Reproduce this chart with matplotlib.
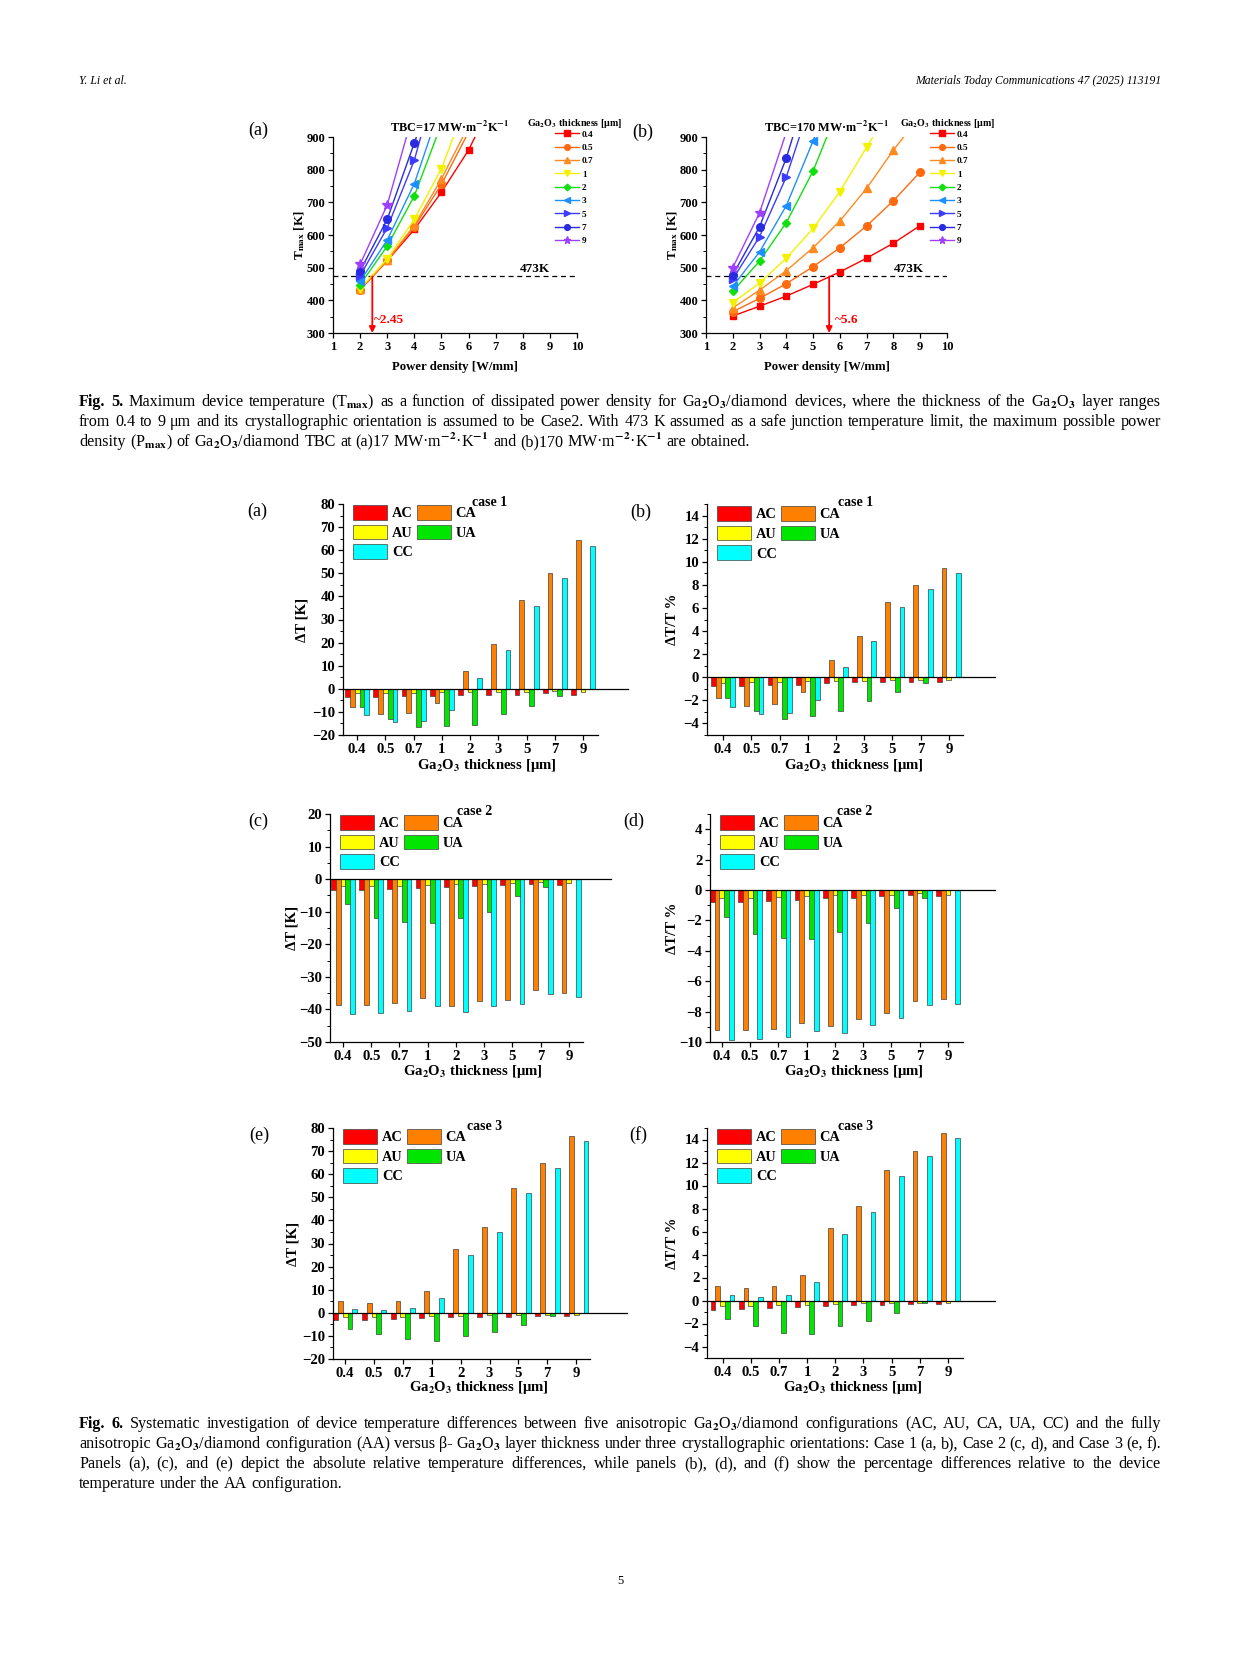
import matplotlib
matplotlib.use('Agg')
import matplotlib.pyplot as plt
from matplotlib.ticker import AutoMinorLocator, MultipleLocator
import numpy as np

# ---------------- Fig. 5 data ----------------
power_density = [2, 3, 4, 5, 6, 7, 8, 9]
thickness_names = ['0.4', '0.5', '0.7', '1', '2', '3', '5', '7', '9']

# (a) TBC = 17 MW m^-2 K^-1 (values above 900 K lie outside the axes)
Ta_04 = [432, 521, 617, 731, 860, 1027]
Ta_05 = [433, 522, 625, 755, 915]
Ta_07 = [434, 523, 630, 772, 935]
Ta_1 = [436, 527, 648, 803, 1023]
Ta_2 = [448, 566, 720, 940]
Ta_3 = [458, 585, 757, 1003]
Ta_5 = [475, 622, 829, 1130]
Ta_7 = [490, 648, 882, 1120]
Ta_9 = [510, 692, 985]

# (b) TBC = 170 MW m^-2 K^-1
Tb_04 = [352, 382, 413, 449, 487, 529, 575, 629]
Tb_05 = [365, 406, 451, 503, 561, 628, 705, 793]
Tb_07 = [377, 431, 491, 561, 643, 743, 860, 965]
Tb_1 = [393, 453, 529, 620, 733, 869, 1004]
Tb_2 = [428, 520, 638, 796, 1000]
Tb_3 = [443, 548, 690, 888, 1120]
Tb_5 = [465, 595, 778, 1027]
Tb_7 = [478, 625, 836, 1103]
Tb_9 = [500, 668, 915]

limit_T = 473
pmax_a = 2.45
pmax_b = 5.6

# ---------------- Fig. 6 data ----------------
ga_thickness = ['0.4', '0.5', '0.7', '1', '2', '3', '5', '7', '9']
configs = ['AC', 'CA', 'AU', 'UA', 'CC']

a_AC = [-3.5, -3.5, -3.0, -3.0, -2.5, -2.5, -2.5, -2.0, -2.5]
a_CA = [-8.0, -11.0, -10.5, -6.0, 7.5, 19.6, 38.5, 50.3, 64.5]
a_AU = [-2.0, -2.0, -2.0, -1.5, -1.5, -1.5, -1.5, -1.0, -1.5]
a_UA = [-8.0, -13.0, -16.5, -16.0, -15.5, -11.0, -7.5, -3.0, 0.0]
a_CC = [-11.5, -14.5, -14.0, -9.3, 4.7, 16.8, 36.0, 48.0, 62.0]

b_AC = [-0.8, -0.8, -0.7, -0.65, -0.5, -0.45, -0.45, -0.4, -0.4]
b_CA = [-1.8, -2.45, -2.35, -1.3, 1.5, 3.6, 6.55, 8.0, 9.5]
b_AU = [-0.5, -0.45, -0.4, -0.35, -0.3, -0.3, -0.25, -0.2, -0.25]
b_UA = [-1.8, -2.9, -3.6, -3.35, -2.95, -2.05, -1.3, -0.5, 0.0]
b_CC = [-2.6, -3.2, -3.1, -1.95, 0.9, 3.1, 6.1, 7.65, 9.05]

c_AC = [-3.3, -3.3, -3.0, -2.8, -2.4, -2.1, -1.9, -1.6, -1.9]
c_CA = [-38.7, -38.5, -38.1, -36.6, -39.0, -37.5, -37.0, -33.9, -34.9]
c_AU = [-2.2, -2.2, -2.0, -1.8, -1.5, -1.4, -1.3, -0.9, -1.2]
c_UA = [-7.5, -12.0, -13.3, -13.6, -12.0, -10.0, -5.3, -2.4, 0.0]
c_CC = [-41.5, -41.2, -40.6, -39.0, -40.8, -39.1, -38.4, -35.2, -36.2]

d_AC = [-0.8, -0.8, -0.7, -0.65, -0.55, -0.5, -0.4, -0.35, -0.4]
d_CA = [-9.2, -9.2, -9.15, -8.75, -8.95, -8.5, -8.1, -7.3, -7.2]
d_AU = [-0.55, -0.55, -0.45, -0.4, -0.35, -0.35, -0.3, -0.2, -0.3]
d_UA = [-1.8, -2.9, -3.15, -3.2, -2.75, -2.2, -1.2, -0.55, 0.0]
d_CC = [-9.9, -9.8, -9.7, -9.25, -9.4, -8.9, -8.45, -7.55, -7.5]

e_AC = [-3.0, -3.0, -2.6, -2.3, -1.9, -1.8, -1.7, -1.5, -1.6]
e_CA = [5.0, 4.3, 5.0, 9.4, 27.7, 37.0, 53.9, 64.7, 76.6]
e_AU = [-2.0, -1.9, -1.7, -1.5, -1.2, -1.1, -1.1, -0.8, -0.9]
e_UA = [-6.8, -9.3, -11.5, -12.2, -10.0, -8.1, -5.3, -1.2, 0.0]
e_CC = [1.7, 1.0, 1.9, 6.6, 25.2, 34.8, 51.7, 62.9, 74.2]

f_AC = [-0.8, -0.75, -0.65, -0.6, -0.45, -0.4, -0.35, -0.3, -0.3]
f_CA = [1.25, 1.05, 1.25, 2.25, 6.3, 8.2, 11.35, 13.0, 14.55]
f_AU = [-0.5, -0.5, -0.4, -0.35, -0.3, -0.25, -0.25, -0.2, -0.2]
f_UA = [-1.65, -2.25, -2.8, -2.9, -2.2, -1.75, -1.1, -0.2, 0.0]
f_CC = [0.45, 0.3, 0.5, 1.6, 5.75, 7.7, 10.85, 12.6, 14.1]

# ---------------- styling ----------------
SERIF = ['Liberation Serif', 'DejaVu Serif']
plt.rcParams['font.family'] = SERIF
plt.rcParams['font.weight'] = 'bold'
plt.rcParams['mathtext.fontset'] = 'stix'
plt.rcParams['axes.linewidth'] = 0.9

W, H = 1241, 1654
fig = plt.figure(figsize=(W / 100, H / 100), dpi=100)
fig.patch.set_facecolor('white')


def fx(px):
    return px / W


def fy(py):
    return 1 - py / H


def add_ax(l, t, r, b):
    return fig.add_axes([l / W, 1 - b / H, (r - l) / W, (b - t) / H])


def style_axes(ax, fs):
    ax.spines['top'].set_visible(False)
    ax.spines['right'].set_visible(False)
    ax.set_facecolor('none')
    ax.tick_params(which='major', direction='out', length=3.5, width=0.9,
                   labelsize=fs, pad=2)
    ax.tick_params(which='minor', direction='out', length=2, width=0.7)
    for lbl in ax.get_xticklabels() + ax.get_yticklabels():
        lbl.set_fontweight('bold')


GA = 'Ga$_\\mathbf{2}$O$_\\mathbf{3}$'

# ---------------- Fig. 5 ----------------
f5_colors = ['#FF0000', '#FF6A10', '#FF8A20', '#F2F200', '#10E010',
             '#1E8FFF', '#3C3CFF', '#2A2AE0', '#A040FF']
f5_markers = ['s', 'o', '^', 'v', 'D', '<', '>', 'o', '*']
f5_ms = [5, 5.5, 5.5, 5.5, 4.5, 5.5, 5.5, 5.5, 7]


def fig5_panel(box, series, title, title_xy, leg_title_xy, leg_xy, leg_space,
               pmax, pmax_xy, k_xy, panel, panel_xy, xlab_xy, ylab_x):
    ax = add_ax(*box)
    lines = []
    for name, ys, c, m, ms in zip(thickness_names, series, f5_colors, f5_markers, f5_ms):
        ln, = ax.plot(power_density[:len(ys)], ys, color=c, marker=m, ms=ms,
                      mec=c, mfc=c, lw=1.0, label=name, zorder=3)
        lines.append(ln)
    ax.set_xlim(1, 10)
    ax.set_ylim(300, 900)
    ax.xaxis.set_major_locator(MultipleLocator(1))
    ax.yaxis.set_major_locator(MultipleLocator(100))
    ax.yaxis.set_minor_locator(AutoMinorLocator(2))
    style_axes(ax, 9)
    ax.axhline(limit_T, color='black', ls=(0, (4, 3)), lw=0.9, zorder=2)
    ax.annotate('', xy=(pmax, 300), xytext=(pmax, limit_T),
                arrowprops=dict(arrowstyle='-|>', color='red', lw=1.3,
                                mutation_scale=9, shrinkA=0, shrinkB=0),
                annotation_clip=False, zorder=4)
    ax.text(pmax_xy[0], pmax_xy[1], '~' + str(pmax), color='red', fontsize=9.5,
            fontweight='bold', ha='left', va='center')
    ax.text(k_xy[0], k_xy[1], '473K', fontsize=9.5, fontweight='bold',
            ha='left', va='bottom')
    fig.text(fx(title_xy[0]), fy(title_xy[1]), title, fontsize=8.8,
             fontweight='bold', ha='center', va='center')
    fig.text(fx(leg_title_xy[0]), fy(leg_title_xy[1]),
             GA + ' thickness [μm]', fontsize=7.2, fontweight='bold',
             ha='left', va='center')
    ax.legend(handles=lines, loc='upper left',
              bbox_to_anchor=(fx(leg_xy[0]), fy(leg_xy[1])),
              bbox_transform=fig.transFigure, frameon=False,
              handlelength=2.6, handletextpad=0.3, labelspacing=leg_space,
              borderpad=0, borderaxespad=0, markerscale=0.75,
              prop={'weight': 'bold', 'size': 6.7})
    fig.text(fx(panel_xy[0]), fy(panel_xy[1]), panel, fontsize=13,
             fontweight='normal', ha='center', va='center')
    fig.text(fx(xlab_xy[0]), fy(xlab_xy[1]), 'Power density [W/mm]',
             fontsize=9.2, fontweight='bold', ha='center', va='center')
    fig.text(fx(ylab_x), fy((box[1] + box[3]) / 2), 'T$_\\mathbf{max}$ [K]',
             fontsize=9.5, fontweight='bold', ha='center', va='center',
             rotation=90)
    return ax


fig5_panel((333, 137, 577, 333),
           [Ta_04, Ta_05, Ta_07, Ta_1, Ta_2, Ta_3, Ta_5, Ta_7, Ta_9],
           'TBC=17 MW·m$^{\\mathbf{-2}}$K$^{\\mathbf{-1}}$', (450, 127),
           (527, 123), (555, 130), 0.52, pmax_a, (2.5, 340), (7.9, 477),
           '(a)', (258, 130), (455, 367), 300)
fig5_panel((706, 137, 947, 333),
           [Tb_04, Tb_05, Tb_07, Tb_1, Tb_2, Tb_3, Tb_5, Tb_7, Tb_9],
           'TBC=170 MW·m$^{\\mathbf{-2}}$K$^{\\mathbf{-1}}$', (827, 127),
           (900, 123), (930, 130), 0.52, pmax_b, (5.8, 340), (8.0, 477),
           '(b)', (643, 132), (827, 367), 673)

# ---------------- Fig. 6 ----------------
bar_colors = ['#FF0000', '#FF8000', '#FFFF00', '#00E600', '#00FFFF']
bar_w = 0.17


def fig6_panel(box, vals, ylim, ystep, xlim, zero_end, ylabel, ylab_x,
               xlab_xy, case, case_xy, leg_xy, panel, panel_xy):
    ax = add_ax(*box)
    x = np.arange(len(ga_thickness))
    conts = []
    for i, (v, c, name) in enumerate(zip(vals, bar_colors, configs)):
        bc = ax.bar(x + (i - 2) * bar_w, v, bar_w, color=c, edgecolor='#404040',
                    linewidth=0.5, label=name, zorder=2)
        conts.append(bc)
    ax.set_xlim(*xlim)
    ax.set_ylim(*ylim)
    ax.set_xticks(x, ga_thickness)
    ax.yaxis.set_major_locator(MultipleLocator(ystep))
    ax.yaxis.set_minor_locator(AutoMinorLocator(2))
    style_axes(ax, 10.6)
    ax.plot([xlim[0], zero_end], [0, 0], color='black', lw=0.9,
            clip_on=False, zorder=3)
    order = [0, 2, 4, 1, 3]  # AC, AU, CC | CA, UA
    ax.legend(handles=[conts[k] for k in order], loc='upper left',
              bbox_to_anchor=(fx(leg_xy[0]), fy(leg_xy[1])),
              bbox_transform=fig.transFigure, frameon=False, ncol=2,
              handlelength=2.35, handleheight=1.2, handletextpad=0.35,
              columnspacing=0.27, labelspacing=0.3, borderpad=0,
              borderaxespad=0, prop={'weight': 'bold', 'size': 10.4})
    fig.text(fx(case_xy[0]), fy(case_xy[1]), case, fontsize=10,
             fontweight='bold', ha='left', va='center')
    fig.text(fx(panel_xy[0]), fy(panel_xy[1]), panel, fontsize=13,
             fontweight='normal', ha='center', va='center')
    fig.text(fx(xlab_xy[0]), fy(xlab_xy[1]), GA + ' thickness [μm]',
             fontsize=10.6, fontweight='bold', ha='center', va='center')
    fig.text(fx(ylab_x), fy((box[1] + box[3]) / 2), ylabel, fontsize=10.6,
             fontweight='bold', ha='center', va='center', rotation=90)
    return ax


fig6_panel((343, 504, 598, 735), [a_AC, a_CA, a_AU, a_UA, a_CC], (-20, 80), 10,
           (-0.5, 8.53), 9.59, 'ΔT [K]', 302, (487, 765), 'case 1', (472, 502),
           (353, 505), '(a)', (257, 511))
fig6_panel((707, 504, 963, 735), [b_AC, b_CA, b_AU, b_UA, b_CC], (-5, 15), 2,
           (-0.57, 8.5), 9.63, 'ΔT/T %', 672, (854, 765), 'case 1', (838, 502),
           (717, 506), '(b)', (641, 512))
fig6_panel((330, 814, 583, 1042), [c_AC, c_CA, c_AU, c_UA, c_CC], (-50, 20), 10,
           (-0.46, 8.5), 9.5, 'ΔT [K]', 292, (473, 1072), 'case 2', (457, 812),
           (340, 815), '(c)', (258, 821))
fig6_panel((710, 814, 963, 1042), [d_AC, d_CA, d_AU, d_UA, d_CC], (-10, 5), 2,
           (-0.42, 8.53), 9.66, 'ΔT/T %', 672, (854, 1072), 'case 2', (837, 812),
           (720, 815), '(d)', (634, 821))
fig6_panel((333, 1128, 590, 1359), [e_AC, e_CA, e_AU, e_UA, e_CC], (-20, 80), 10,
           (-0.42, 8.48), 9.77, 'ΔT [K]', 293, (479, 1388), 'case 3', (467, 1126),
           (343, 1129), '(e)', (259, 1135))
fig6_panel((707, 1128, 963, 1358), [f_AC, f_CA, f_AU, f_UA, f_CC], (-5, 15), 2,
           (-0.55, 8.53), 9.66, 'ΔT/T %', 672, (853, 1388), 'case 3', (838, 1126),
           (717, 1129), '(f)', (638, 1135))

# ---------------- page text ----------------
fig.text(fx(79), fy(81), 'Y. Li et al.', fontsize=8.5, style='italic',
         fontweight='normal', ha='left', va='center')
fig.text(fx(1161), fy(81), 'Materials Today Communications 47 (2025) 113191',
         fontsize=8.5, style='italic', fontweight='normal', ha='right', va='center')
fig.text(fx(620), fy(1581), '5', fontsize=9, fontweight='normal',
         ha='center', va='center')

renderer = fig.canvas.get_renderer()
CAP_FS = 11.6
GAn = 'Ga$_2$O$_3$'


def caption_line(text, y, bold_words=0, x0=79, x1=1161, justify=True):
    words = text.split(' ')
    objs = []
    for k, w in enumerate(words):
        t = fig.text(0, fy(y), w, fontsize=CAP_FS,
                     fontweight='bold' if k < bold_words else 'normal',
                     ha='left', va='center')
        objs.append(t)
    widths = [t.get_window_extent(renderer).width for t in objs]
    space = CAP_FS * 100 / 72 * 0.25
    if justify and len(objs) > 1:
        gap = max((x1 - x0 - sum(widths)) / (len(objs) - 1), 2.0)
    else:
        gap = space
    x = x0
    for t, w in zip(objs, widths):
        t.set_x(x / W)
        x += w + gap


cap5 = [
    ('Fig. 5. Maximum device temperature (T$_\\mathrm{max}$) as a function of dissipated power '
     'density for ' + GAn + '/diamond devices, where the thickness of the ' + GAn + ' layer ranges', 2, True),
    ('from 0.4 to 9 μm and its crystallographic orientation is assumed to be Case2. With 473 K assumed '
     'as a safe junction temperature limit, the maximum possible power', 0, True),
    ('density (P$_\\mathrm{max}$) of ' + GAn + '/diamond TBC at (a)17 MW·m$^{-2}$·K$^{-1}$ and '
     '(b)170 MW·m$^{-2}$·K$^{-1}$ are obtained.', 0, False),
]
cap6 = [
    ('Fig. 6. Systematic investigation of device temperature differences between five anisotropic '
     + GAn + '/diamond configurations (AC, AU, CA, UA, CC) and the fully', 2, True),
    ('anisotropic ' + GAn + '/diamond configuration (AA) versus β- ' + GAn + ' layer thickness under three '
     'crystallographic orientations: Case 1 (a, b), Case 2 (c, d), and Case 3 (e, f).', 0, True),
    ('Panels (a), (c), and (e) depict the absolute relative temperature differences, while panels (b), '
     '(d), and (f) show the percentage differences relative to the device', 0, True),
    ('temperature under the AA configuration.', 0, False),
]

for (s, nb, j), y in zip(cap5, [402, 422, 442]):
    caption_line(s, y, bold_words=nb, justify=j)
for (s, nb, j), y in zip(cap6, [1424, 1444, 1464, 1484]):
    caption_line(s, y, bold_words=nb, justify=j)

fig.savefig('out.png', dpi=100, facecolor='white')
